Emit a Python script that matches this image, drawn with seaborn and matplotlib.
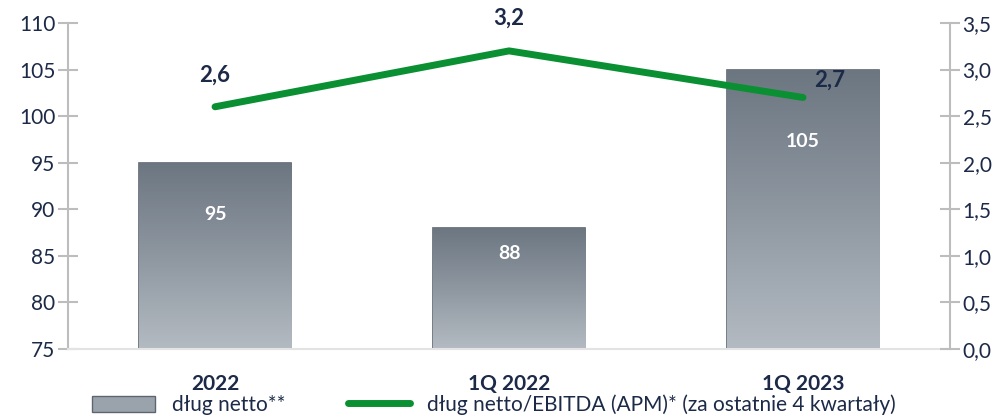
import numpy as np
import pandas as pd
import matplotlib.pyplot as plt
import seaborn as sns
from matplotlib.colors import LinearSegmentedColormap
from matplotlib.patches import Patch
from matplotlib.lines import Line2D

# data
periods = ['2022', '1Q 2022', '1Q 2023']
net_debt = [95, 88, 105]
debt_ebitda = [2.6, 3.2, 2.7]

df = pd.DataFrame({'period': periods, 'debt': net_debt, 'ratio': debt_ebitda})

navy = '#1c2a48'
green = '#0a9032'
grey_axis = '#bdbdbd'

sns.set_style('white')
plt.rcParams['font.family'] = ['Lato', 'DejaVu Sans']

fig = plt.figure(figsize=(10.08, 4.17), dpi=100)
ax = fig.add_axes([0.0675, 0.163, 0.875, 0.782])

sns.barplot(data=df, x='period', y='debt', color='#8a939c', width=0.52,
            edgecolor='#5d6670', linewidth=1.2, ax=ax)
ax.set_ylim(75, 110)
ax.set_xlim(-0.5, 2.5)
ax.set_yticks(np.arange(75, 111, 5))

# vertical gradient on bars
cmap = LinearSegmentedColormap.from_list('bar', ['#6c7681', '#8e97a0', '#b3bac2'])
grad = np.linspace(0, 1, 256).reshape(-1, 1)
for p in ax.patches:
    x0, w, h = p.get_x(), p.get_width(), p.get_height()
    im = ax.imshow(grad, cmap=cmap, aspect='auto', origin='upper',
                   extent=[x0, x0 + w, 75, h], zorder=p.get_zorder() + 0.1)
    im.set_clip_path(p)

# bar value labels (white, inside)
bar_label_y = [89.4, 85.3, 97.3]
for i, v in enumerate(net_debt):
    ax.text(i, bar_label_y[i], str(v), ha='center', va='center', color='white',
            fontsize=14, fontweight='bold', zorder=5)

ax.set_xlabel('')
ax.set_ylabel('')
for s in ['top', 'right']:
    ax.spines[s].set_visible(False)
ax.spines['left'].set_color(grey_axis)
ax.spines['left'].set_linewidth(1.5)
ax.spines['bottom'].set_color('#e3e3e3')
ax.spines['bottom'].set_linewidth(1.5)
ax.tick_params(axis='y', direction='inout', length=14, width=1.5, color=grey_axis,
               labelsize=15, labelcolor=navy, pad=2)
ax.tick_params(axis='x', length=0, labelsize=15, labelcolor=navy, pad=18)
for t in ax.get_xticklabels():
    t.set_fontweight('bold')

# ratio on secondary axis
ax2 = ax.twinx()
sns.lineplot(data=df, x='period', y='ratio', color=green, linewidth=5,
             solid_capstyle='round', ax=ax2, sort=False)
ax2.set_ylim(0, 3.5)
ax2.set_xlim(-0.5, 2.5)
ax2.set_yticks(np.arange(0, 3.51, 0.5))
ax2.set_yticklabels([f'{v:.1f}'.replace('.', ',') for v in np.arange(0, 3.51, 0.5)])
ax2.set_ylabel('')
for s in ['top', 'left', 'bottom']:
    ax2.spines[s].set_visible(False)
ax2.spines['right'].set_color(grey_axis)
ax2.spines['right'].set_linewidth(1.5)
ax2.tick_params(axis='y', direction='inout', length=14, width=1.5, color=grey_axis,
                labelsize=15, labelcolor=navy, pad=2)

label_dx = [0, 0, 0.09]
label_dy = [0.34, 0.35, 0.19]
for i, v in enumerate(debt_ebitda):
    ax2.text(i + label_dx[i], v + label_dy[i], f'{v:.1f}'.replace('.', ','),
             ha='center', va='center', color=navy, fontsize=16, fontweight='bold')

handles = [Patch(facecolor='#9aa3ac', edgecolor='#5d6670'),
           Line2D([0], [0], color=green, linewidth=5, solid_capstyle='round')]
labels = ['dług netto**', 'dług netto/EBITDA (APM)* (za ostatnie 4 kwartały)']
fig.legend(handles, labels, loc='lower center', bbox_to_anchor=(0.49, -0.04),
           ncol=2, frameon=False, fontsize=15, labelcolor=navy,
           handlelength=3.0, handleheight=0.8, columnspacing=3.0)

fig.savefig('out.png', dpi=100)
